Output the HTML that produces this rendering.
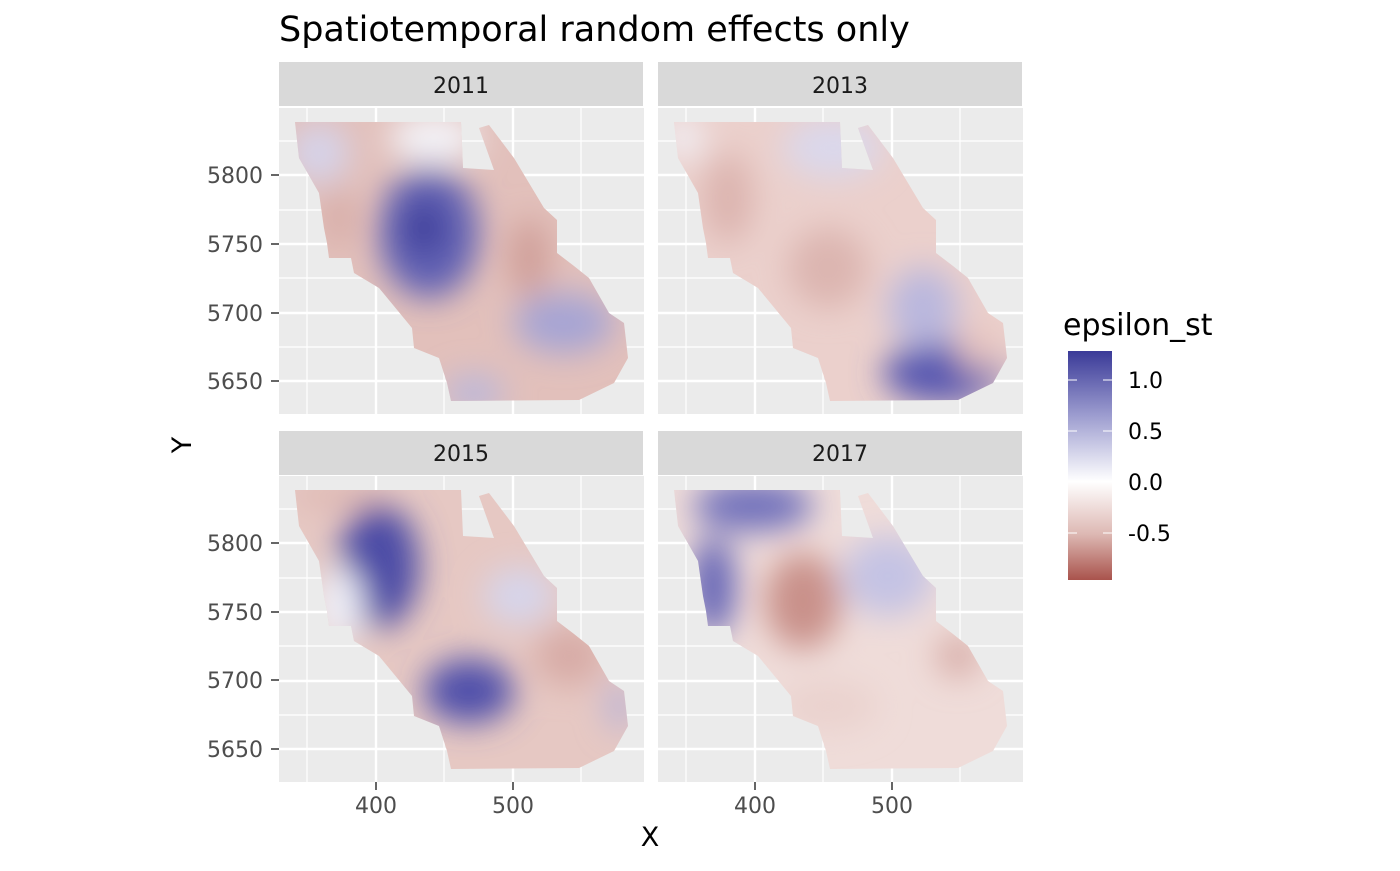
<!DOCTYPE html>
<html><head><style>
body{margin:0;background:#fff;width:1400px;height:866px;overflow:hidden}
svg{font-family:"DejaVu Sans","Liberation Sans",sans-serif}
</style></head><body>
<svg width="1400" height="866" viewBox="0 0 1400 866">
<defs>
<clipPath id="shape"><polygon points="16,14 182,14 184,60 215,62 200,20 210,17 235,50 265,100 278,112 278,145 295,158 310,170 330,205 345,215 349,250 335,275 300,292 172,293 168,275 160,250 135,240 133,220 100,180 75,165 72,150 50,150 48,135 45,120 40,85 20,50"/></clipPath>
<filter id="bl" x="-50%" y="-50%" width="200%" height="200%"><feGaussianBlur stdDeviation="16"/></filter>
<linearGradient id="cb" x1="0" y1="0" x2="0" y2="1">
<stop offset="0" stop-color="#3a3a98"/><stop offset="0.28" stop-color="#9c9ccf"/><stop offset="0.57" stop-color="#ffffff"/><stop offset="0.8" stop-color="#ddb8b3"/><stop offset="1" stop-color="#a9534c"/></linearGradient>
<g id="grid">
<rect width="365" height="306" fill="#ebebeb"/>
<g stroke="#fff" stroke-width="1.2"><line x1="28" y1="0" x2="28" y2="306"/><line x1="165" y1="0" x2="165" y2="306"/><line x1="302" y1="0" x2="302" y2="306"/>
<line x1="0" y1="33" x2="365" y2="33"/><line x1="0" y1="102" x2="365" y2="102"/><line x1="0" y1="170" x2="365" y2="170"/><line x1="0" y1="239" x2="365" y2="239"/></g>
<g stroke="#fff" stroke-width="2.4"><line x1="97" y1="0" x2="97" y2="306"/><line x1="234" y1="0" x2="234" y2="306"/>
<line x1="0" y1="67" x2="365" y2="67"/><line x1="0" y1="136" x2="365" y2="136"/><line x1="0" y1="205" x2="365" y2="205"/><line x1="0" y1="273" x2="365" y2="273"/></g>
</g>
</defs>
<text x="279" y="41" font-size="35" fill="#000">Spatiotemporal random effects only</text>

<!-- 2011 -->
<rect x="279" y="62" width="364" height="44" fill="#d9d9d9"/><text x="461" y="93" font-size="22" text-anchor="middle" fill="#1a1a1a">2011</text>
<g transform="translate(279,108)"><use href="#grid"/>
<g clip-path="url(#shape)"><rect width="365" height="306" fill="#e2c0bb"/>
<g filter="url(#bl)">
<ellipse cx="40" cy="45" rx="30" ry="30" fill="#d5d3ea"/>
<ellipse cx="155" cy="30" rx="45" ry="25" fill="#f3f3f8"/>
<ellipse cx="150" cy="125" rx="50" ry="65" fill="#6262b4"/>
<ellipse cx="145" cy="120" rx="22" ry="28" fill="#3f3f9c"/>
<ellipse cx="285" cy="215" rx="50" ry="30" fill="#a6a4d4"/>
<ellipse cx="195" cy="285" rx="30" ry="18" fill="#b9b7dc"/>
<ellipse cx="250" cy="150" rx="20" ry="40" fill="#cf9e98"/>
<ellipse cx="60" cy="110" rx="15" ry="30" fill="#d6aaa5"/>
</g></g></g>

<!-- 2013 -->
<rect x="658" y="62" width="364" height="44" fill="#d9d9d9"/><text x="840" y="93" font-size="22" text-anchor="middle" fill="#1a1a1a">2013</text>
<g transform="translate(658,108)"><use href="#grid"/>
<g clip-path="url(#shape)"><rect width="365" height="306" fill="#ebd0cc"/>
<g filter="url(#bl)">
<ellipse cx="175" cy="40" rx="50" ry="30" fill="#dad8ec"/>
<ellipse cx="25" cy="30" rx="20" ry="20" fill="#f2f2f8"/>
<ellipse cx="70" cy="90" rx="25" ry="45" fill="#dcb4af"/>
<ellipse cx="170" cy="160" rx="40" ry="40" fill="#dcb5b0"/>
<ellipse cx="285" cy="265" rx="60" ry="30" fill="#5656b0"/>
<ellipse cx="265" cy="200" rx="35" ry="40" fill="#b9b7de"/>
<ellipse cx="320" cy="240" rx="20" ry="25" fill="#e5c3bf"/>
</g></g></g>

<!-- 2015 -->
<rect x="279" y="431" width="364" height="44" fill="#d9d9d9"/><text x="461" y="461" font-size="22" text-anchor="middle" fill="#1a1a1a">2015</text>
<g transform="translate(279,476)"><use href="#grid"/>
<g clip-path="url(#shape)"><rect width="365" height="306" fill="#e6c8c3"/>
<g filter="url(#bl)">
<ellipse cx="100" cy="90" rx="40" ry="62" fill="#4b4ba6"/>
<ellipse cx="60" cy="130" rx="25" ry="40" fill="#eeeef6"/>
<ellipse cx="190" cy="215" rx="45" ry="32" fill="#5050aa"/>
<ellipse cx="240" cy="120" rx="35" ry="28" fill="#d6d5ec"/>
<ellipse cx="340" cy="230" rx="12" ry="25" fill="#b3b1da"/>
<ellipse cx="290" cy="180" rx="35" ry="30" fill="#d7aba6"/>
<ellipse cx="60" cy="20" rx="50" ry="10" fill="#dbb3ae"/>
</g></g></g>

<!-- 2017 -->
<rect x="658" y="431" width="364" height="44" fill="#d9d9d9"/><text x="840" y="461" font-size="22" text-anchor="middle" fill="#1a1a1a">2017</text>
<g transform="translate(658,476)"><use href="#grid"/>
<g clip-path="url(#shape)"><rect width="365" height="306" fill="#efdcd9"/>
<g filter="url(#bl)">
<ellipse cx="95" cy="30" rx="60" ry="25" fill="#7070bb"/>
<ellipse cx="55" cy="110" rx="22" ry="50" fill="#6464b6"/>
<ellipse cx="145" cy="125" rx="38" ry="48" fill="#c9918a"/>
<ellipse cx="230" cy="100" rx="45" ry="40" fill="#c4c3e4"/>
<ellipse cx="300" cy="180" rx="22" ry="22" fill="#d8aea9"/>
<ellipse cx="170" cy="230" rx="50" ry="25" fill="#ead2ce"/>
</g></g></g>

<!-- axes -->
<g font-size="22" fill="#4d4d4d" text-anchor="end">
<text x="263" y="183">5800</text><text x="263" y="252">5750</text><text x="263" y="321">5700</text><text x="263" y="389">5650</text>
<text x="263" y="551">5800</text><text x="263" y="620">5750</text><text x="263" y="688">5700</text><text x="263" y="757">5650</text>
</g>
<g stroke="#333" stroke-width="1.5">
<line x1="271" y1="175" x2="279" y2="175"/><line x1="271" y1="244" x2="279" y2="244"/><line x1="271" y1="313" x2="279" y2="313"/><line x1="271" y1="381" x2="279" y2="381"/>
<line x1="271" y1="543" x2="279" y2="543"/><line x1="271" y1="612" x2="279" y2="612"/><line x1="271" y1="680" x2="279" y2="680"/><line x1="271" y1="749" x2="279" y2="749"/>
<line x1="376" y1="782" x2="376" y2="790"/><line x1="513" y1="782" x2="513" y2="790"/><line x1="755" y1="782" x2="755" y2="790"/><line x1="892" y1="782" x2="892" y2="790"/>
</g>
<g font-size="22" fill="#4d4d4d" text-anchor="middle">
<text x="376" y="813">400</text><text x="513" y="813">500</text><text x="755" y="813">400</text><text x="892" y="813">500</text>
</g>
<text x="650" y="846" font-size="27" text-anchor="middle">X</text>
<text x="191" y="445" font-size="27" text-anchor="middle" transform="rotate(-90 191 445)">Y</text>

<!-- legend -->
<text x="1063" y="335" font-size="30">epsilon_st</text>
<rect x="1068" y="351" width="44" height="229" fill="url(#cb)"/>
<g stroke="#fff" stroke-width="1"><line x1="1068" y1="380" x2="1077" y2="380"/><line x1="1103" y1="380" x2="1112" y2="380"/>
<line x1="1068" y1="431" x2="1077" y2="431"/><line x1="1103" y1="431" x2="1112" y2="431"/>
<line x1="1068" y1="482" x2="1077" y2="482"/><line x1="1103" y1="482" x2="1112" y2="482"/>
<line x1="1068" y1="533" x2="1077" y2="533"/><line x1="1103" y1="533" x2="1112" y2="533"/></g>
<g font-size="22" fill="#000">
<text x="1128" y="388">1.0</text><text x="1128" y="439">0.5</text><text x="1128" y="490">0.0</text><text x="1128" y="541">-0.5</text>
</g>
</svg>
</body></html>
